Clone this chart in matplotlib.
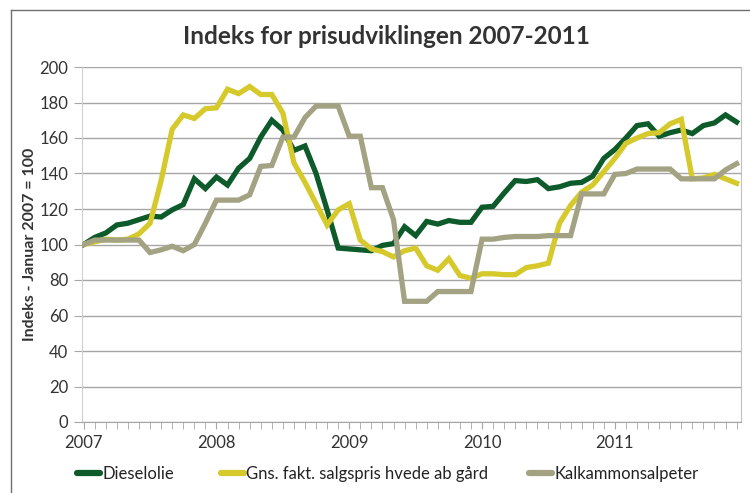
import matplotlib
matplotlib.use("Agg")
import matplotlib.pyplot as plt
from matplotlib.lines import Line2D
import numpy as np

plt.rcParams['font.family'] = ['Lato', 'DejaVu Sans']

title = "Indeks for prisudviklingen 2007-2011"
ylabel = "Indeks - Januar 2007 = 100"
year_labels = ["2007", "2008", "2009", "2010", "2011"]
series_names = ["Dieselolie", "Gns. fakt. salgspris hvede ab gård", "Kalkammonsalpeter"]

dieselolie = [100, 104, 106.5, 111, 112, 114, 116, 115.5, 119.5, 122.5,
              137, 131.5, 138, 133.5, 143, 148.5, 160.5, 170, 164.5, 153,
              155.5, 140, 119.5, 98, 97.5, 97, 96.5, 99.5, 100.5, 110,
              105, 113, 111.5, 113.5, 112.5, 112.5, 121, 121.5, 129, 136,
              135.5, 136.5, 131.5, 132.5, 134.5, 135, 138.5, 148.5, 153.5, 160,
              167, 168, 161, 163, 164.5, 162.5, 167, 168.5, 173, 169]
hvede = [100, 101.5, 103, 102.5, 103, 106, 112, 136, 165, 173,
         171, 176.5, 177, 187.5, 185, 189, 184.5, 184.5, 174, 146,
         135, 123, 111, 119.5, 123, 102.5, 97.5, 96, 93, 96.5,
         98, 88, 85.5, 92, 82.5, 81, 83.5, 83.5, 83, 83,
         87, 88, 89.5, 112, 122, 129.5, 133.5, 141, 148.5, 157,
         160, 162.5, 163, 168, 170.5, 137, 137.5, 139.5, 137, 134.5]
kalk = [100, 102.5, 102.5, 102.5, 102.5, 102.5, 95.5, 97, 99, 96.5,
        100, 112, 125, 125, 125, 128, 144, 144.5, 160.5, 160.5,
        171.5, 178, 178, 178, 161, 161, 132, 132, 114, 68,
        68, 68, 73.5, 73.5, 73.5, 73.5, 103, 103, 104, 104.5,
        104.5, 104.5, 105, 105, 105, 128.5, 128.5, 128.5, 139.5, 140,
        142.5, 142.5, 142.5, 142.5, 137, 137, 137, 137, 142, 145.5]

colors = ["#0d5a2b", "#d5c92c", "#a3a283"]

months = np.arange(len(dieselolie))

fig = plt.figure(figsize=(7.5, 4.93), dpi=100)
ax = fig.add_axes([82/750, 71/493, 659/750, 355/493])

lines = []
for vals, c, name in zip([dieselolie, hvede, kalk], colors, series_names):
    ln, = ax.plot(months, vals, color=c, lw=3.8, label=name, solid_joinstyle='miter', zorder=3)
    lines.append(ln)

ax.set_xlim(-0.15, 59.4)
ax.set_ylim(0, 200)
ax.set_yticks(np.arange(0, 201, 20))
ax.yaxis.grid(True, color='#a6a6a6', lw=1)
ax.set_axisbelow(True)

ax.set_xticks(np.arange(0, 60, 12))
ax.set_xticklabels(year_labels)
ax.set_xticks(np.arange(0, 60, 1), minor=True)

ax.spines['top'].set_visible(False)
ax.spines['left'].set_color('#d0d0d0')
ax.spines['right'].set_color('#c0c0c0')
ax.spines['bottom'].set_color('#a6a6a6')
ax.tick_params(axis='y', direction='out', length=6, color='#a6a6a6', labelsize=12, labelcolor='#333333', pad=4)
ax.tick_params(axis='x', which='both', direction='out', length=5, color='#a6a6a6', labelsize=12, labelcolor='#333333', pad=4)

ax.set_ylabel(ylabel, fontsize=11.5, fontweight='bold', color='#333333')
ax.yaxis.set_label_coords(-0.068, 0.5)
fig.text(0.515, 0.925, title, ha='center', va='center', fontsize=17.5, fontweight='bold', color='#333333')

leg_x = [77, 221, 529]
for ln, lx in zip(lines, leg_x):
    h = Line2D([], [], color=ln.get_color(), lw=4.5, solid_capstyle='round')
    fig.legend([h], [ln.get_label()], loc='center left', bbox_to_anchor=(lx/750, 1 - 474/493),
               frameon=False, fontsize=12, handlelength=1.4, handletextpad=0.1,
               borderaxespad=0, borderpad=0, labelcolor='#222222')

# outer frame
fig.add_artist(Line2D([11/750, 11/750], [0, 1 - 10/493], transform=fig.transFigure, color='#707070', lw=1))
fig.add_artist(Line2D([11/750, 1], [1 - 10/493, 1 - 10/493], transform=fig.transFigure, color='#707070', lw=1))

fig.savefig("out.png", dpi=100)
